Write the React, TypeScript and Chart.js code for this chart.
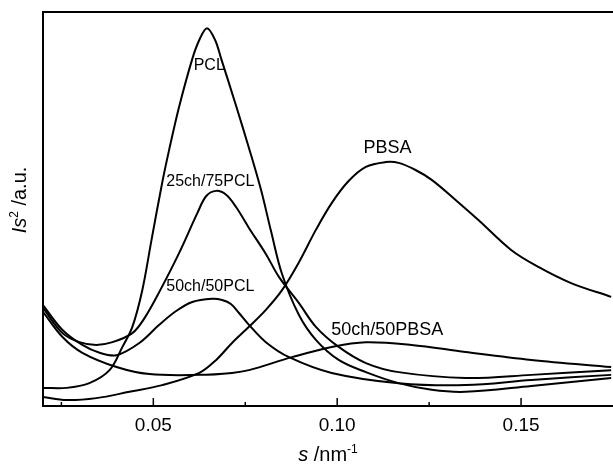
import { useEffect, useRef } from 'react';
import { Chart, registerables } from 'chart.js';

Chart.register(...registerables);

const FONT = '"Liberation Sans", Arial, Helvetica, sans-serif';

// s (nm^-1) and I*s^2 (a.u.)
const pclS = [0.0200, 0.0264, 0.0326, 0.0381, 0.0416, 0.0443, 0.0470, 0.0495, 0.0524, 0.0543, 0.0570, 0.0606, 0.0625, 0.0646, 0.0668, 0.0684, 0.0725, 0.0760, 0.0793, 0.0820, 0.0850, 0.0896, 0.0942, 0.1004, 0.1078, 0.1167, 0.1257, 0.1349, 0.1528, 0.1745];
const pclI = [4.6, 4.6, 5.8, 9.1, 15.0, 20.1, 29.4, 42.1, 56.6, 65.0, 75.9, 88.1, 92.9, 95.9, 92.9, 88.3, 76.2, 65.5, 54.8, 44.4, 33.5, 23.1, 16.8, 11.7, 8.6, 5.8, 4.1, 3.6, 5.1, 7.1];

const b2575S = [0.0200, 0.0253, 0.0299, 0.0345, 0.0389, 0.0443, 0.0476, 0.0516, 0.0570, 0.0620, 0.0644, 0.0671, 0.0698, 0.0725, 0.0760, 0.0806, 0.0842, 0.0896, 0.0942, 0.1004, 0.1078, 0.1167, 0.1349, 0.1528, 0.1745];
const b2575I = [24.9, 18.5, 16.2, 15.5, 16.2, 18.5, 22.3, 28.9, 38.8, 49.0, 53.3, 54.6, 53.6, 50.5, 45.2, 38.6, 32.7, 26.1, 20.1, 15.0, 10.9, 8.6, 7.1, 7.9, 9.1];

const b5050pclS = [0.0200, 0.0253, 0.0307, 0.0354, 0.0400, 0.0462, 0.0516, 0.0562, 0.0606, 0.0660, 0.0687, 0.0711, 0.0733, 0.0760, 0.0806, 0.0869, 0.0985, 0.1167, 0.1349, 0.1528, 0.1745];
const b5050pclI = [25.6, 19.3, 15.5, 13.5, 12.9, 16.0, 20.6, 24.1, 26.4, 27.2, 26.9, 25.9, 23.6, 20.6, 16.2, 12.4, 8.4, 5.8, 5.3, 6.6, 7.9];

const b5050pbsaS = [0.0200, 0.0253, 0.0307, 0.0400, 0.0489, 0.0625, 0.0714, 0.0760, 0.0877, 0.0985, 0.1078, 0.1202, 0.1349, 0.1528, 0.1745];
const b5050pbsaI = [23.9, 17.5, 13.5, 9.9, 8.1, 7.9, 8.4, 9.1, 12.4, 15.0, 16.2, 15.5, 13.7, 11.7, 9.9];

const pbsaS = [0.0200, 0.0264, 0.0345, 0.0435, 0.0524, 0.0625, 0.0671, 0.0714, 0.0760, 0.0806, 0.0850, 0.0896, 0.0942, 0.0985, 0.1031, 0.1078, 0.1132, 0.1167, 0.1213, 0.1257, 0.1322, 0.1384, 0.1473, 0.1547, 0.1636, 0.1745];
const pbsaI = [2.3, 1.5, 2.0, 3.6, 5.3, 8.4, 11.7, 16.0, 20.1, 24.4, 29.4, 36.5, 44.7, 51.5, 57.1, 60.7, 61.9, 61.7, 59.9, 57.4, 52.3, 47.2, 39.6, 35.3, 31.2, 27.7];

// x axis ticks (every 0.025, labels on 0.05 multiples)
const xTickValues = [0.025, 0.05, 0.075, 0.1, 0.125, 0.15, 0.175];
const xTickLabels = ['', '0.05', '', '0.10', '', '0.15', ''];

// curve labels at data coordinates
const curveLabels = ['PCL', '25ch/75PCL', '50ch/50PCL', 'PBSA', '50ch/50PBSA'];
const curveLabelS = [0.0652, 0.0655, 0.0655, 0.1137, 0.1136];
const curveLabelI = [86.5, 56.9, 30.3, 65.4, 19.4];
const curveLabelSize = [16, 16, 16, 18, 18];

type Part = { t: string; italic?: boolean; sup?: boolean };

function drawRich(ctx: CanvasRenderingContext2D, parts: Part[], x: number, y: number, size: number, rotate: boolean) {
  const fontFor = (p: Part) => `${p.italic ? 'italic ' : ''}${p.sup ? Math.round(size * 0.62) : size}px ${FONT}`;
  let total = 0;
  const widths: number[] = [];
  for (const p of parts) {
    ctx.font = fontFor(p);
    const w = ctx.measureText(p.t).width;
    widths.push(w);
    total += w;
  }
  ctx.save();
  ctx.translate(x, y);
  if (rotate) ctx.rotate(-Math.PI / 2);
  ctx.textAlign = 'left';
  ctx.textBaseline = 'alphabetic';
  ctx.fillStyle = '#000';
  let cx = -total / 2;
  parts.forEach((p, i) => {
    ctx.font = fontFor(p);
    ctx.fillText(p.t, cx, p.sup ? -size * 0.42 : 0);
    cx += widths[i];
  });
  ctx.restore();
}

const decorPlugin = {
  id: 'decor',
  afterDraw(chart: any) {
    const { ctx, chartArea, scales } = chart;
    const xs = scales.x;
    const ys = scales.y;
    ctx.save();
    ctx.strokeStyle = '#000';
    // top border
    ctx.lineWidth = 2;
    ctx.beginPath();
    ctx.moveTo(chartArea.left, chartArea.top);
    ctx.lineTo(chartArea.right, chartArea.top);
    ctx.stroke();
    // inward tick marks
    ctx.lineWidth = 1.5;
    xTickValues.forEach((v, i) => {
      const px = xs.getPixelForValue(v);
      if (px > chartArea.right - 1) return;
      const len = xTickLabels[i] ? 8 : 4;
      ctx.beginPath();
      ctx.moveTo(px, chartArea.bottom);
      ctx.lineTo(px, chartArea.bottom - len);
      ctx.stroke();
    });
    // curve labels
    ctx.fillStyle = '#000';
    ctx.textAlign = 'center';
    ctx.textBaseline = 'middle';
    curveLabels.forEach((t, i) => {
      ctx.font = `${curveLabelSize[i]}px ${FONT}`;
      ctx.fillText(t, xs.getPixelForValue(curveLabelS[i]), ys.getPixelForValue(curveLabelI[i]));
    });
    ctx.restore();
    // axis titles
    drawRich(ctx, [{ t: 's', italic: true }, { t: ' /nm' }, { t: '-1', sup: true }], (chartArea.left + chartArea.right) / 2, 461, 20, false);
    drawRich(ctx, [{ t: 'I', italic: true }, { t: 's', italic: true }, { t: '2', sup: true }, { t: ' /a.u.' }], 26, 200, 20, true);
  },
};

function series(s: number[], v: number[]) {
  return s.map((x, i) => ({ x, y: v[i] }));
}

export default function App() {
  const ref = useRef<HTMLCanvasElement | null>(null);
  useEffect(() => {
    document.body.style.margin = '0';
    const canvas = ref.current;
    if (!canvas) return;
    const mk = (label: string, data: { x: number; y: number }[]) => ({
      label,
      data,
      borderColor: '#000',
      borderWidth: 2,
      pointRadius: 0,
      fill: false,
      tension: 0.35,
    });
    const chart = new Chart(canvas, {
      type: 'line',
      data: {
        datasets: [
          mk('PCL', series(pclS, pclI)),
          mk('25ch/75PCL', series(b2575S, b2575I)),
          mk('50ch/50PCL', series(b5050pclS, b5050pclI)),
          mk('50ch/50PBSA', series(b5050pbsaS, b5050pbsaI)),
          mk('PBSA', series(pbsaS, pbsaI)),
        ],
      },
      options: {
        animation: false,
        responsive: false,
        events: [],
        layout: { padding: { top: 12, right: 0, left: 0, bottom: 0 } },
        plugins: { legend: { display: false }, tooltip: { enabled: false } },
        scales: {
          x: {
            type: 'linear',
            min: 0.02,
            max: 0.175,
            afterBuildTicks: (scale: any) => {
              scale.ticks = xTickValues.map((v) => ({ value: v }));
            },
            afterFit: (scale: any) => {
              scale.height = 59;
              scale.paddingLeft = 0;
              scale.paddingRight = 0;
            },
            grid: { display: false, drawTicks: false },
            border: { display: true, color: '#000', width: 2 },
            ticks: {
              padding: 8,
              maxRotation: 0,
              autoSkip: false,
              color: '#000',
              font: { size: 19, family: FONT },
              callback: (_v: any, i: number) => xTickLabels[i],
            },
          },
          y: {
            type: 'linear',
            min: 0,
            max: 100,
            afterFit: (scale: any) => {
              scale.width = 43;
              scale.paddingTop = 0;
              scale.paddingBottom = 0;
            },
            grid: { display: false, drawTicks: false },
            border: { display: true, color: '#000', width: 2 },
            ticks: { display: false },
          },
        },
      },
      plugins: [decorPlugin],
    });
    return () => chart.destroy();
  }, []);
  return (
    <div style={{ position: 'fixed', left: 0, top: 0, width: 613, height: 465, background: '#fff' }}>
      <canvas ref={ref} width={613} height={465} />
    </div>
  );
}
